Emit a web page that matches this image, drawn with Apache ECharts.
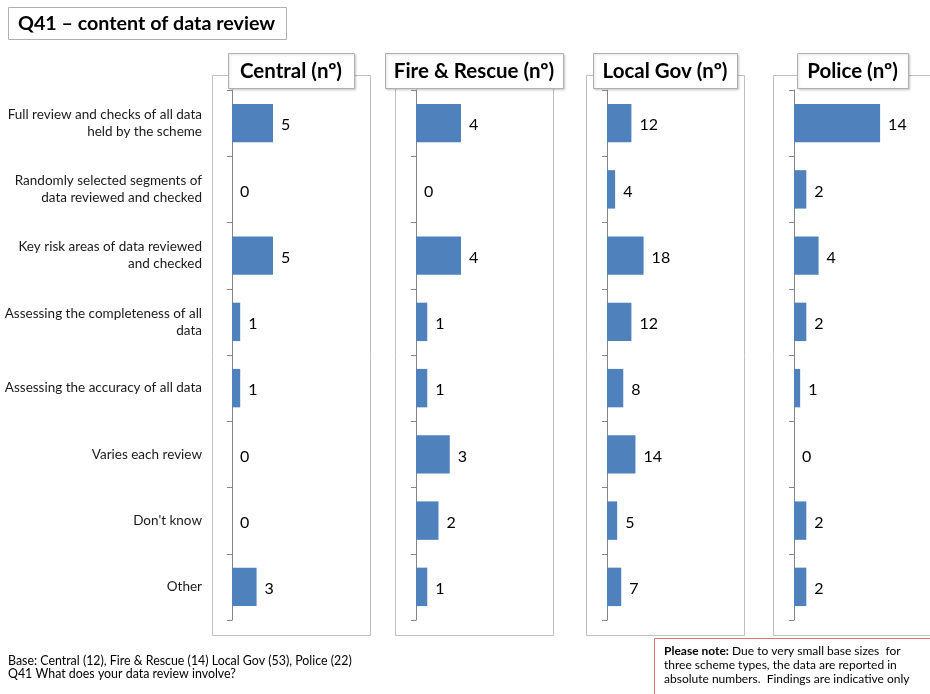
<!DOCTYPE html>
<html>
<head>
<meta charset="utf-8">
<script src="https://cdn.jsdelivr.net/npm/echarts@6/dist/echarts.min.js"></script>
<style>
html,body{margin:0;padding:0;background:#fff;}
#chart{width:930px;height:694px;}
</style>
</head>
<body>
<div id="chart"></div>
<script>
const categories = [
  "Full review and checks of all data\nheld by the scheme",
  "Randomly selected segments of\ndata reviewed and checked",
  "Key risk areas of data reviewed\nand checked",
  "Assessing the completeness of all\ndata",
  "Assessing the accuracy of all data",
  "Varies each review",
  "Don't know",
  "Other"
];
const panelTitles = ["Central (nº)", "Fire & Rescue (nº)", "Local Gov (nº)", "Police (nº)"];
const centralValues = [5, 0, 5, 1, 1, 0, 0, 3];
const fireValues = [4, 0, 4, 1, 1, 3, 2, 1];
const localGovValues = [12, 4, 18, 12, 8, 14, 5, 7];
const policeValues = [14, 2, 4, 2, 1, 0, 2, 2];
const axisMax = [15, 12, 60, 20];
const chartTitle = "Q41 – content of data review";
const baseText = "Base: Central (12), Fire & Rescue (14) Local Gov (53), Police (22)";
const questionText = "Q41 What does your data review involve?";
const noteBold = "Please note:";
const noteText = " Due to very small base sizes  for\nthree scheme types, the data are reported in\nabsolute numbers.  Findings are indicative only";

const seriesValues = [centralValues, fireValues, localGovValues, policeValues];
const FONT = "Lato, 'Open Sans', sans-serif";

// layout
const axisX = [232, 416, 607, 794];
const gridW = [123, 135, 122, 123];
const panelBox = [[212, 370], [395, 553], [586, 744], [773, 960]];
const titleBox = [[228, 354], [385, 563], [593, 737], [797, 908]];
const gridTop = 90, gridH = 530;

const chart = echarts.init(document.getElementById('chart'), null, {renderer: 'canvas'});

const grids = [], xAxes = [], yAxes = [], series = [], graphics = [];

for (let i = 0; i < 4; i++) {
  graphics.push({
    type: 'rect', z: 0, silent: true,
    shape: {x: panelBox[i][0] + 0.5, y: 75.5, width: panelBox[i][1] - panelBox[i][0], height: 560},
    style: {fill: '#fff', stroke: '#c0c0c0', lineWidth: 1}
  });
  grids.push({left: axisX[i], top: gridTop, width: gridW[i], height: gridH, containLabel: false});
  xAxes.push({
    type: 'value', gridIndex: i, min: 0, max: axisMax[i], show: false
  });
  yAxes.push({
    type: 'category', gridIndex: i, inverse: true, data: categories,
    axisLine: {show: true, lineStyle: {color: '#868686', width: 1}},
    axisTick: {show: true, length: 5, lineStyle: {color: '#868686'}},
    axisLabel: i === 0 ? {
      show: true, margin: 30, color: '#1a1a1a', fontFamily: FONT, fontSize: 13.5,
      lineHeight: 17, align: 'right', padding: [4, 0, 0, 0]
    } : {show: false},
    splitLine: {show: false}
  });
  series.push({
    type: 'bar', xAxisIndex: i, yAxisIndex: i, data: seriesValues[i],
    barCategoryGap: '42%',
    itemStyle: {color: '#4f81bd'},
    label: {show: true, position: 'right', distance: 8, color: '#000',
      fontFamily: FONT, fontSize: 16, offset: [0, 2]},
    z: 3
  });
  graphics.push({
    type: 'group', z: 10,
    children: [
      {type: 'rect', shape: {x: titleBox[i][0] + 0.5, y: 53.5, width: titleBox[i][1] - titleBox[i][0], height: 35},
        style: {fill: '#fff', stroke: '#b0b0b0', lineWidth: 1, shadowBlur: 2, shadowOffsetX: 1, shadowOffsetY: 1, shadowColor: 'rgba(0,0,0,0.15)'}},
      {type: 'text', style: {x: (titleBox[i][0] + titleBox[i][1]) / 2, y: 71, text: panelTitles[i],
        align: 'center', verticalAlign: 'middle', font: "bold 20.5px " + FONT, fill: '#000'}}
    ]
  });
}

graphics.push({
  type: 'group', z: 10,
  children: [
    {type: 'rect', shape: {x: 8.5, y: 7.5, width: 278, height: 32},
      style: {fill: '#fff', stroke: '#b0b0b0', lineWidth: 1}},
    {type: 'text', style: {x: 18, y: 24, text: chartTitle, verticalAlign: 'middle',
      font: "bold 19.7px " + FONT, fill: '#000'}}
  ]
});
graphics.push({
  type: 'text', z: 10,
  style: {x: 8, y: 654, text: baseText + "\n" + questionText, font: "12.4px " + FONT, fill: '#000', lineHeight: 13}
});
graphics.push({
  type: 'group', z: 10,
  children: [
    {type: 'rect', shape: {x: 654.5, y: 638.5, width: 300, height: 70},
      style: {fill: '#fff', stroke: '#e8707a', lineWidth: 1}},
    {type: 'text', style: {x: 664, y: 644,
      text: '{b|' + noteBold + '}' + noteText.split('\n').map(s => '{n|' + s + '}').join('\n'),
      rich: {
        b: {font: "bold 12px " + FONT, fill: '#000', lineHeight: 14},
        n: {font: "12px " + FONT, fill: '#000', lineHeight: 14}
      }
    }}
  ]
});

chart.setOption({
  backgroundColor: '#fff',
  animation: false,
  grid: grids,
  xAxis: xAxes,
  yAxis: yAxes,
  series: series,
  graphic: graphics
});
</script>
</body>
</html>
